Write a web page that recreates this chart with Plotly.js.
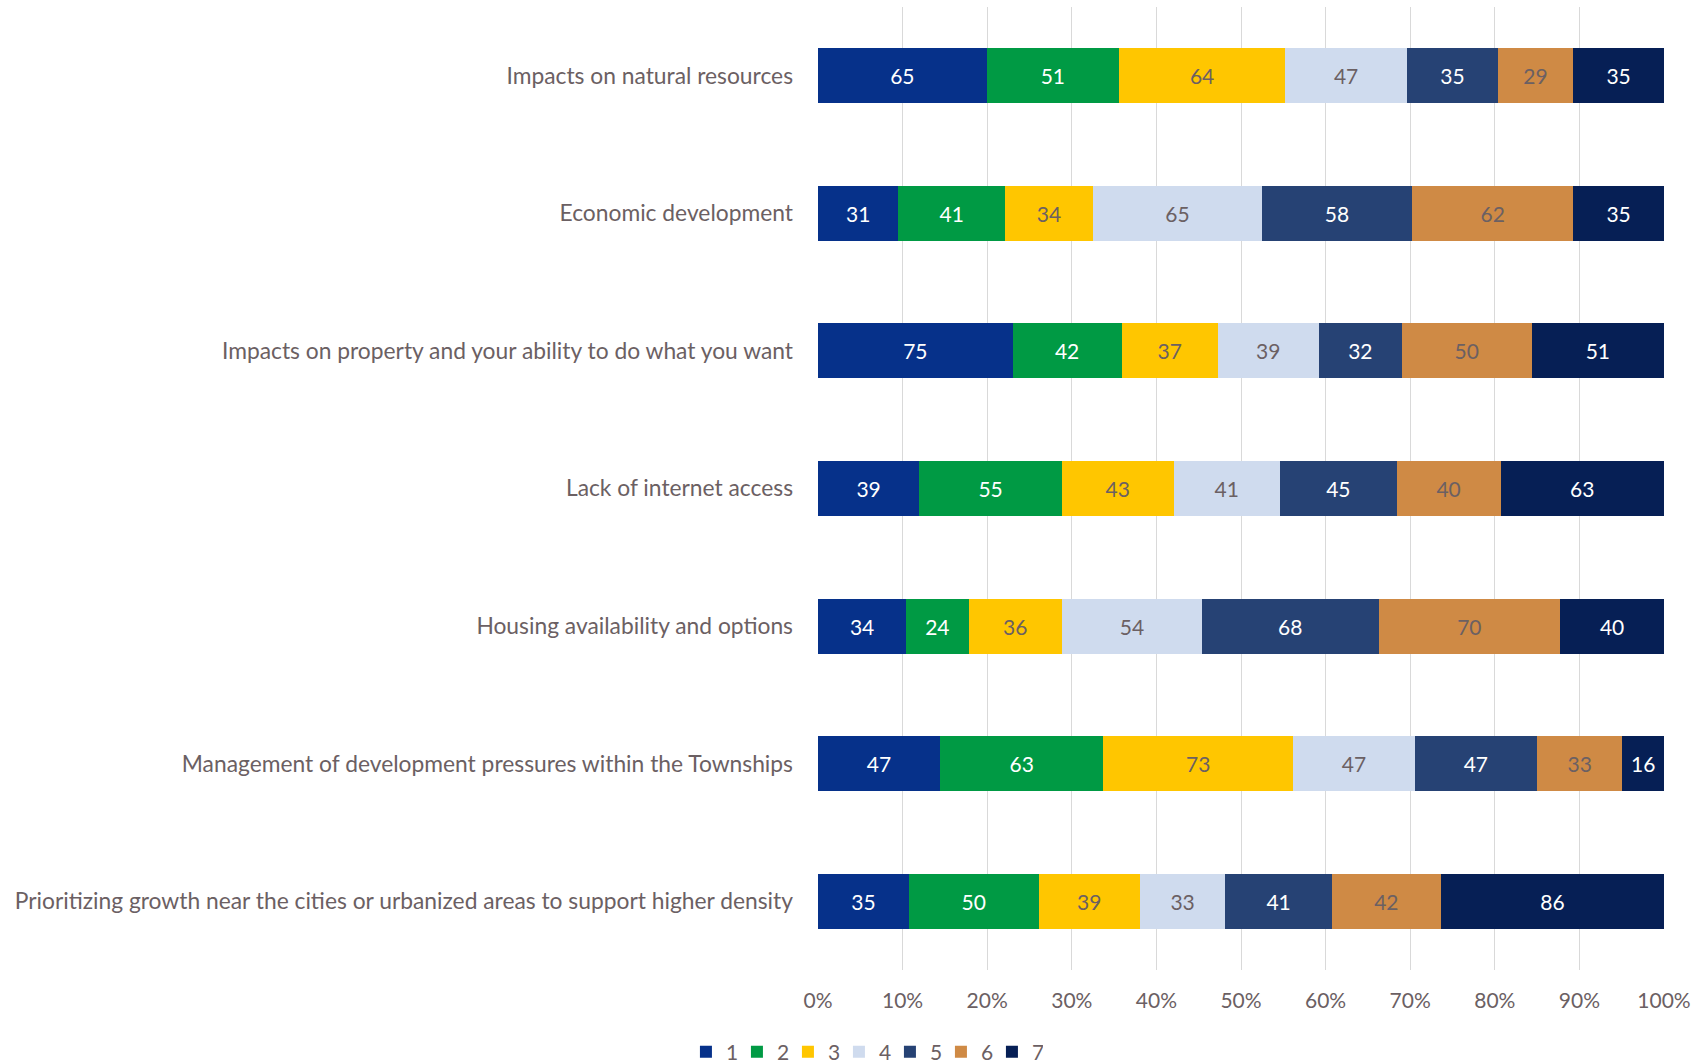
<!DOCTYPE html>
<html>
<head>
<meta charset="utf-8">
<script src="https://cdn.plot.ly/plotly-3.0.1.min.js"></script>
<style>html,body{margin:0;padding:0;background:#fff;}#chart{width:1705px;height:1063px;}</style>
</head>
<body>
<div id="chart"></div>
<script>
const categories = [
  "Impacts on natural resources",
  "Economic development",
  "Impacts on property and your ability to do what you want",
  "Lack of internet access",
  "Housing availability and options",
  "Management of development pressures within the Townships",
  "Prioritizing growth near the cities or urbanized areas to support higher density"
];
const seriesNames = ["1","2","3","4","5","6","7"];
const s1 = [65, 31, 75, 39, 34, 47, 35];
const s2 = [51, 41, 42, 55, 24, 63, 50];
const s3 = [64, 34, 37, 43, 36, 73, 39];
const s4 = [47, 65, 39, 41, 54, 47, 33];
const s5 = [35, 58, 32, 45, 68, 47, 41];
const s6 = [29, 62, 50, 40, 70, 33, 42];
const s7 = [35, 35, 51, 63, 40, 16, 86];
const xTickLabels = ["0%","10%","20%","30%","40%","50%","60%","70%","80%","90%","100%"];

const seriesValues = [s1, s2, s3, s4, s5, s6, s7];
const colors = ["#06318a", "#009a44", "#ffc600", "#cfdbee", "#264274", "#cf8a45", "#061f55"];
const textColors = ["#ffffff", "#ffffff", "#6b6063", "#6b6063", "#ffffff", "#6b6063", "#ffffff"];
const grey = "#6b6063";
const fontFam = "Lato, 'Open Sans', sans-serif";

const traces = seriesValues.map((vals, i) => ({
  type: "bar",
  orientation: "h",
  name: seriesNames[i],
  y: categories,
  x: vals,
  text: vals.map(String),
  texttemplate: "%{text}",
  textposition: "inside",
  insidetextanchor: "middle",
  textangle: 0,
  constraintext: "none",
  insidetextfont: {color: textColors[i], size: 21, family: fontFam},
  marker: {color: colors[i], line: {width: 0}},
  width: 0.4,
  hoverinfo: "skip"
}));

const layout = {
  width: 1705,
  height: 1063,
  margin: {l: 818, r: 41, t: 7, b: 93},
  paper_bgcolor: "#ffffff",
  plot_bgcolor: "#ffffff",
  barmode: "stack",
  barnorm: "percent",
  font: {family: fontFam, color: grey, size: 21},
  xaxis: {
    range: [0, 100],
    tickvals: [0,10,20,30,40,50,60,70,80,90,100],
    ticktext: xTickLabels,
    showgrid: true,
    gridcolor: "#d9d9d9",
    gridwidth: 1,
    zeroline: false,
    showline: false,
    ticks: "",
    ticklabelstandoff: 16,
    tickfont: {size: 21, color: grey, family: fontFam},
    fixedrange: true
  },
  yaxis: {
    type: "category",
    categoryorder: "array",
    categoryarray: categories,
    autorange: "reversed",
    showgrid: false,
    zeroline: false,
    showline: false,
    ticks: "",
    ticklabelstandoff: 24,
    tickfont: {size: 22.8, color: grey, family: fontFam},
    fixedrange: true
  },
  legend: {
    orientation: "h",
    x: 0.507,
    xref: "container",
    xanchor: "center",
    y: 0.0103,
    yref: "container",
    yanchor: "middle",
    traceorder: "normal",
    font: {size: 21, color: grey, family: fontFam},
    itemwidth: 30,
    entrywidth: 6,
    entrywidthmode: "pixels",
    tracegroupgap: 0
  },
  showlegend: true
};

Plotly.newPlot("chart", traces, layout, {displayModeBar: false, staticPlot: true});
</script>
</body>
</html>
